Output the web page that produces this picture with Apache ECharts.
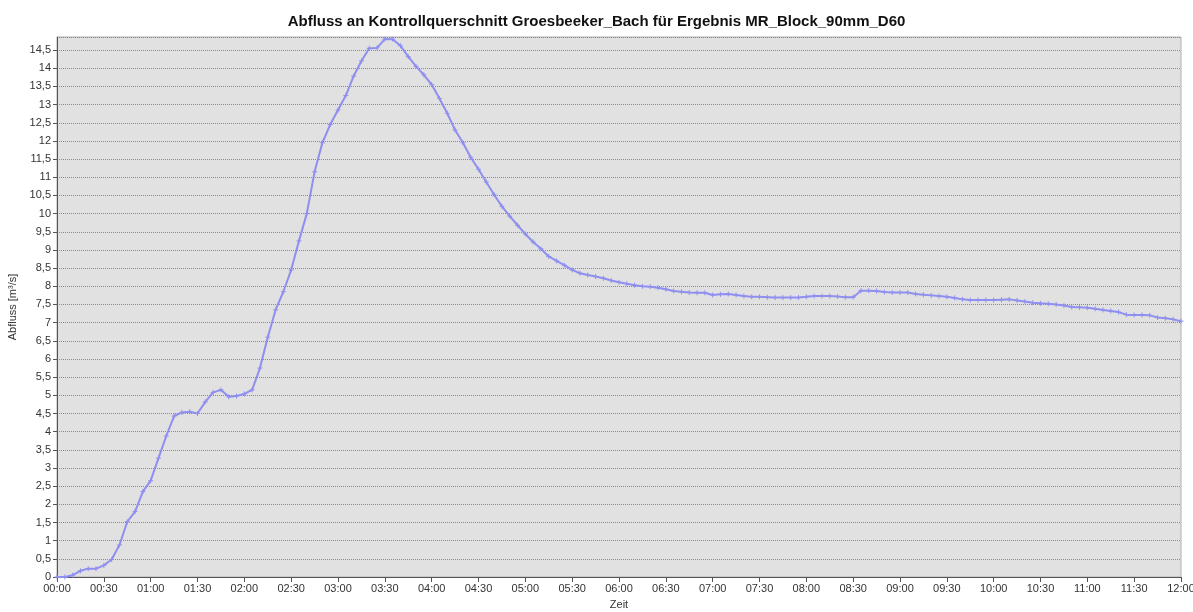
<!DOCTYPE html>
<html>
<head>
<meta charset="utf-8">
<script src="https://cdn.jsdelivr.net/npm/echarts@6/dist/echarts.min.js"></script>
<style>
html,body{margin:0;padding:0;background:#fff;}
#chart{width:1193px;height:612px;}
</style>
</head>
<body>
<div id="chart"></div>
<script>
// Time in minutes since 00:00 (5-minute steps)
const minutes = [];
for (let m = 0; m <= 720; m += 5) minutes.push(m);

// Discharge (Abfluss) in m³/s
const abfluss = [
  0.00, 0.00, 0.05, 0.17, 0.23, 0.23, 0.32, 0.48, 0.88, 1.52, 1.80, 2.35, 2.65,   // 00:00-01:00
  3.27, 3.88, 4.43, 4.53, 4.55, 4.50, 4.82, 5.08, 5.15, 4.96, 4.98, 5.04,          // -02:00
  5.15, 5.75, 6.60, 7.35, 7.85, 8.45, 9.25, 10.00, 11.15, 11.95, 12.45, 12.85,     // -03:00
  13.25, 13.78, 14.20, 14.55, 14.56, 14.80, 14.80, 14.62, 14.32, 14.05, 13.82, 13.55, // -04:00
  13.17, 12.76, 12.30, 11.95, 11.55, 11.22, 10.87, 10.52, 10.20, 9.93, 9.68, 9.44,  // -05:00
  9.22, 9.03, 8.82, 8.70, 8.58, 8.45, 8.36, 8.31, 8.27, 8.22, 8.16, 8.11,           // -06:00
  8.07, 8.03, 8.00, 7.99, 7.96, 7.92, 7.87, 7.85, 7.83, 7.82, 7.82, 7.76,           // -07:00
  7.78, 7.79, 7.76, 7.73, 7.71, 7.71, 7.70, 7.69, 7.69, 7.69, 7.69, 7.71,           // -08:00
  7.73, 7.73, 7.73, 7.72, 7.70, 7.70, 7.88, 7.88, 7.87, 7.84, 7.83, 7.83,           // -09:00
  7.83, 7.79, 7.77, 7.75, 7.73, 7.71, 7.68, 7.64, 7.62, 7.62, 7.62, 7.62,           // -10:00
  7.63, 7.64, 7.61, 7.58, 7.55, 7.53, 7.52, 7.50, 7.47, 7.43, 7.42, 7.41,           // -11:00
  7.38, 7.35, 7.32, 7.29, 7.22, 7.21, 7.21, 7.20, 7.14, 7.12, 7.09, 7.04            // -12:00
];

const titleText = 'Abfluss an Kontrollquerschnitt Groesbeeker_Bach für Ergebnis MR_Block_90mm_D60';
const xName = 'Zeit';
const yName = 'Abfluss [m³/s]';

const seriesData = minutes.map((m, i) => [m, abfluss[i]]);

function fmtTime(v) {
  const h = Math.floor(v / 60), m = v % 60;
  return String(h).padStart(2, '0') + ':' + String(m).padStart(2, '0');
}
function fmtNum(v) {
  const r = Math.round(v * 2) / 2;
  if (Math.abs(r - v) > 1e-6) return '';
  return String(r).replace('.', ',');
}

const font = 'Liberation Sans, Arial, sans-serif';
const chart = echarts.init(document.getElementById('chart'), null, {renderer: 'canvas'});
chart.setOption({
  animation: false,
  backgroundColor: '#ffffff',
  title: {
    text: titleText,
    left: 'center',
    top: 9,
    textStyle: {fontFamily: font, fontSize: 15, fontWeight: 'bold', color: '#111'}
  },
  grid: {
    left: 57, right: 12, top: 37, bottom: 35,
    outerBoundsMode: 'none',
    containLabel: false,
    show: true,
    backgroundColor: '#e1e1e1',
    borderColor: '#b0b0b0',
    borderWidth: 1
  },
  xAxis: {
    type: 'value',
    min: 0, max: 720, interval: 30,
    name: xName,
    nameLocation: 'middle',
    nameGap: 22,
    nameTextStyle: {fontFamily: font, fontSize: 11, color: '#333'},
    axisLine: {show: true, onZero: false, lineStyle: {color: '#555', width: 1}},
    axisTick: {show: true, length: 5, lineStyle: {color: '#555'}},
    axisLabel: {formatter: fmtTime, fontFamily: font, fontSize: 11, color: '#333', margin: 6},
    splitLine: {show: false}
  },
  yAxis: {
    type: 'value',
    min: 0, max: 14.86, interval: 0.5,
    name: yName,
    nameLocation: 'middle',
    nameRotate: 90,
    nameGap: 30,
    nameTextStyle: {fontFamily: font, fontSize: 11, color: '#333'},
    axisLine: {show: true, lineStyle: {color: '#555', width: 1}},
    axisTick: {show: true, length: 4, lineStyle: {color: '#555'}},
    axisLabel: {formatter: fmtNum, fontFamily: font, fontSize: 11, color: '#333', margin: 6, showMaxLabel: false},
    splitLine: {show: true, lineStyle: {color: '#8a8a8a', type: [1, 1], width: 1}}
  },
  series: [{
    type: 'line',
    data: seriesData,
    showSymbol: true,
    symbol: 'path://M0,5L10,5M5,0L5,10',
    symbolSize: 5,
    itemStyle: {color: 'rgba(0,0,0,0)', borderColor: '#8f8ff0', borderWidth: 1},
    lineStyle: {color: '#8f8ff0', width: 2},
    emphasis: {disabled: true}
  }]
});
</script>
</body>
</html>
